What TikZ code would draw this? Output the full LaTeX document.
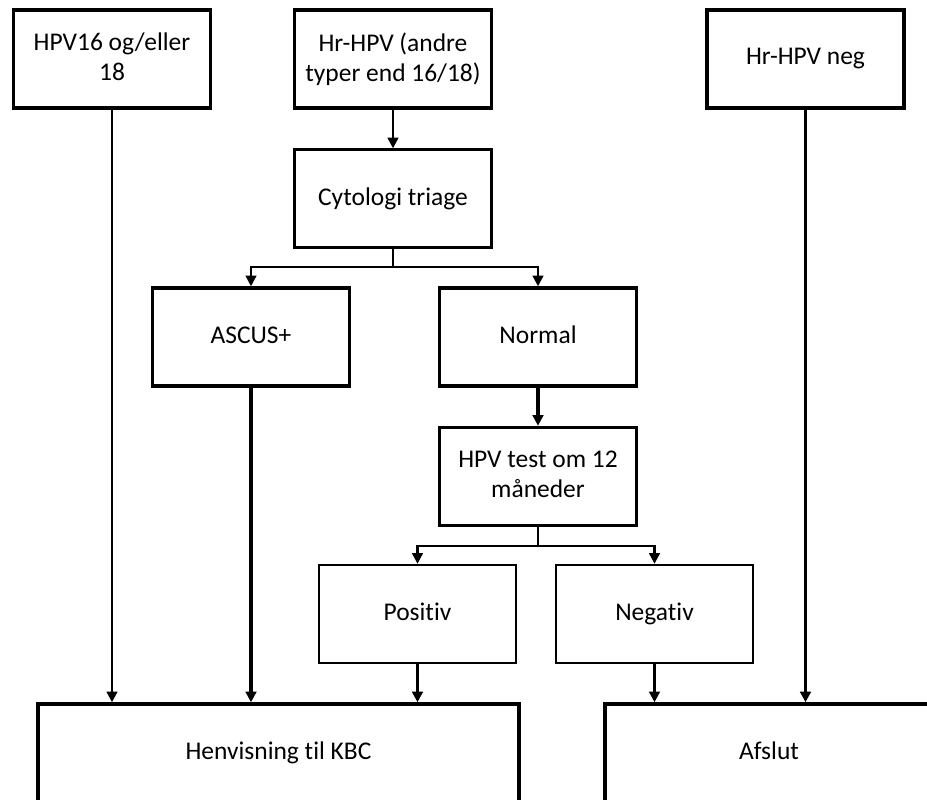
\documentclass[tikz,border=0pt]{standalone}
\usepackage{fontspec}
\setmainfont{Carlito}[Ligatures=NoCommon]
\usetikzlibrary{arrows.meta}

\begin{document}
\begin{tikzpicture}[x=0.02cm, y=-0.02cm,
		box/.style={draw, line width=2pt, minimum width=3.94cm, minimum height=1.96cm, align=center, inner sep=2pt, font=\fontsize{14.5}{17}\selectfont, execute at begin node=\vphantom{g}},
		thinbox/.style={box, line width=1.4pt},
		arr/.style={-{Triangle[length=6pt 0,width=6pt 0]}, line width=1.3pt},
		thickarr/.style={arr, line width=2pt}]
				\useasboundingbox (0,0) rectangle (927,799);
				\draw (112,59) node[box] (hpv) {HPV16 og/eller\\18};
				\draw (393,59) node[box] (hrhpv) {Hr-HPV (andre\\typer end 16/18)};
				\draw (805.5,59) node[box] (hrneg) {Hr-HPV neg};
				\draw (393,198.5) node[thinbox] (cyto) {Cytologi triage};
				\draw (251,337) node[box] (ascus) {ASCUS+};
				\draw (538,337) node[box] (normal) {Normal};
				\draw (538,476.5) node[box] (hpvtest) {HPV test om 12\\måneder};
				\draw (417.5,614) node[thinbox] (pos) {Positiv};
				\draw (654.5,614) node[thinbox] (neg) {Negativ};
				\draw (278.5,753) node[box, minimum width=9.62cm] (kbc) {Henvisning til KBC};
				\draw (769,753) node[box, minimum width=6.56cm] (afslut) {Afslut};

				\draw[arr] (hrhpv) -- (cyto);
				\draw[arr] (cyto.south) -- ++(0,18) -| (ascus.north);
				\draw[arr] (cyto.south) -- ++(0,18) -| (normal.north);
				\draw[thickarr] (normal) -- (hpvtest);
				\draw[arr] (hpvtest.south) -- ++(0,19) -| (pos.north);
				\draw[arr] (hpvtest.south) -- ++(0,19) -| (neg.north);

				\draw[arr] (hpv.south) -- (hpv.south |- kbc.north);
				\draw[thickarr] (ascus.south) -- (ascus.south |- kbc.north);
				\draw[thickarr] (pos.south) -- (pos.south |- kbc.north);
				\draw[arr] (neg.south) -- (neg.south |- afslut.north);
				\draw[thickarr] (hrneg.south) -- (hrneg.south |- afslut.north);
			\end{tikzpicture}
\end{document}
